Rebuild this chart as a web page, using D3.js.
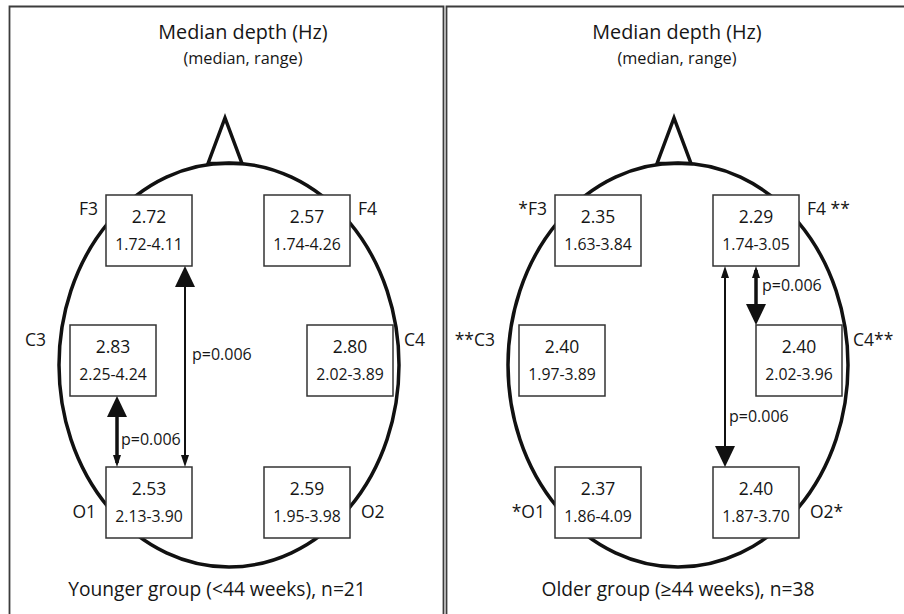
<!DOCTYPE html>
<html>
<head>
<meta charset="utf-8">
<script src="https://cdn.jsdelivr.net/npm/d3@7"></script>
<style>
html, body { margin: 0; background: #fff; overflow: hidden; }
svg { display: block; }
text { font-family: "Open Sans", sans-serif; fill: #161616; }
</style>
</head>
<body>
<svg id="chart" width="904" height="614"></svg>
<script>
// data
var electrodes = ["F3", "F4", "C3", "C4", "O1", "O2"];
var groups = ["Younger group (<44 weeks), n=21", "Older group (\u226544 weeks), n=38"];
var medianYoung = [2.72, 2.57, 2.83, 2.80, 2.53, 2.59];
var rangeYoung = ["1.72-4.11", "1.74-4.26", "2.25-4.24", "2.02-3.89", "2.13-3.90", "1.95-3.98"];
var medianOld = [2.35, 2.29, 2.40, 2.40, 2.37, 2.40];
var rangeOld = ["1.63-3.84", "1.74-3.05", "1.97-3.89", "2.02-3.96", "1.86-4.09", "1.87-3.70"];
var labelsYoung = ["F3", "F4", "C3", "C4", "O1", "O2"];
var labelsOld = ["*F3", "F4 **", "**C3", "C4**", "*O1", "O2*"];
var compYoung = [["C3", "O1", "p=0.006"], ["F3", "O1", "p=0.006"]];
var compOld = [["F4", "C4", "p=0.006"], ["F4", "O2", "p=0.006"]];

var panels = [
  {group: groups[0], median: medianYoung, range: rangeYoung, labels: labelsYoung, comps: compYoung},
  {group: groups[1], median: medianOld, range: rangeOld, labels: labelsOld, comps: compOld}
];

// layout
var boxW = 86, boxH = 71;
var head = {cx: 229, cy: 365, rx: 170, ry: 202};
var panelX = d3.scaleBand().domain(groups).range([0, 898]);
var titleX = d3.scaleOrdinal().domain(groups).range([243, 677]);
var footX = d3.scaleOrdinal().domain(groups).range([217, 678]);
var rowTop = d3.scaleOrdinal().domain(["F", "C", "O"]).range([195, 325, 467]);
var boxX = d3.scaleOrdinal().domain(electrodes).range([149, 307, 113, 350, 149, 307]);
var labelGap = {F: [8, 8], C: [24, 11], O: [10, 11]};
var labelDy = {F: 20, C: 21, O: 51};
var arrowX = {"C3-O1": 117, "F3-O1": 185, "F4-C4": 307, "F4-O2": 276};
var pDx = {"C3-O1": 4, "F3-O1": 7, "F4-C4": 6, "F4-O2": 4};
var pY = {"C3-O1": 445, "F3-O1": 360, "F4-C4": 291, "F4-O2": 422};

var svg = d3.select("#chart");

// frame lines (top + left edges of each panel, plus the left panel's right edge)
svg.append("path")
  .attr("d", "M9.5,614V6.5H443.5V614M446.5,614V6.5H904")
  .attr("fill", "none").attr("stroke", "#3c3c3c").attr("stroke-width", 1.8);

function isLeft(e) { return +e[1] % 2 == 1; }

panels.forEach(function(p) {
  var g = svg.append("g").attr("transform", "translate(" + panelX(p.group) + ",0)");
  var tx = titleX(p.group) - panelX(p.group);

  g.append("text").attr("x", tx).attr("y", 39).attr("text-anchor", "middle")
    .style("font-size", "19.8px").text("Median depth (Hz)");
  g.append("text").attr("x", tx).attr("y", 64).attr("text-anchor", "middle")
    .style("font-size", "16.3px").text("(median, range)");

  // head
  g.append("path")
    .attr("d", "M" + (head.cx - 21) + "," + (head.cy - head.ry + 0.5) + "L" + (head.cx - 4) + ",118L" + (head.cx + 13) + "," + (head.cy - head.ry + 0.5) + "Z")
    .attr("fill", "#fff").attr("stroke", "#111").attr("stroke-width", 3.5).attr("stroke-linejoin", "miter");
  g.append("ellipse").attr("cx", head.cx).attr("cy", head.cy).attr("rx", head.rx).attr("ry", head.ry)
    .attr("fill", "none").attr("stroke", "#111").attr("stroke-width", 3.5);

  // boxes
  var cells = g.selectAll(".cell").data(electrodes).enter().append("g").attr("class", "cell")
    .attr("transform", function(e) { return "translate(" + (boxX(e) - boxW / 2) + "," + rowTop(e[0]) + ")"; });
  cells.append("rect").attr("width", boxW).attr("height", boxH)
    .attr("fill", "#fff").attr("stroke", "#333").attr("stroke-width", 1.5);
  cells.append("text").attr("x", boxW / 2).attr("y", 28).attr("text-anchor", "middle")
    .style("font-size", "17.5px").text(function(e, i) { return p.median[i].toFixed(2); });
  cells.append("text").attr("x", boxW / 2).attr("y", 55).attr("text-anchor", "middle")
    .style("font-size", "15.8px").text(function(e, i) { return p.range[i]; });

  // electrode labels
  g.selectAll(".lab").data(electrodes).enter().append("text").attr("class", "lab")
    .attr("x", function(e) {
      var gap = labelGap[e[0]];
      return isLeft(e) ? boxX(e) - boxW / 2 - gap[0] : boxX(e) + boxW / 2 + gap[1];
    })
    .attr("y", function(e) { return rowTop(e[0]) + labelDy[e[0]]; })
    .attr("text-anchor", function(e) { return isLeft(e) ? "end" : "start"; })
    .style("font-size", "17.5px")
    .text(function(e, i) { return p.labels[i]; });

  // comparison arrows: big head points at the higher median
  p.comps.forEach(function(c) {
    var key = c[0] + "-" + c[1];
    var x = arrowX[key];
    var ia = electrodes.indexOf(c[0]), ib = electrodes.indexOf(c[1]);
    var yTop = rowTop(c[0][0]) + boxH, yBot = rowTop(c[1][0]);
    var adjacent = (yBot - yTop) < 120;
    var topBig = p.median[ia] > p.median[ib];
    g.append("line").attr("x1", x).attr("x2", x).attr("y1", yTop + 4).attr("y2", yBot - 4)
      .attr("stroke", "#111").attr("stroke-width", adjacent ? 3.5 : 2);
    function headPath(tipY, dir, big) {
      var w = big ? 10 : 4, h = big ? 21 : 12;
      return "M" + x + "," + tipY + "L" + (x - w) + "," + (tipY + dir * h) + "L" + (x + w) + "," + (tipY + dir * h) + "Z";
    }
    g.append("path").attr("d", headPath(yTop, 1, topBig)).attr("fill", "#111");
    g.append("path").attr("d", headPath(yBot, -1, !topBig)).attr("fill", "#111");
    g.append("text").attr("x", x + pDx[key]).attr("y", pY[key])
      .style("font-size", "16px").text(c[2]);
  });

  g.append("text").attr("x", footX(p.group) - panelX(p.group)).attr("y", 596).attr("text-anchor", "middle")
    .style("font-size", "19.2px").text(p.group);
});
</script>
</body>
</html>
